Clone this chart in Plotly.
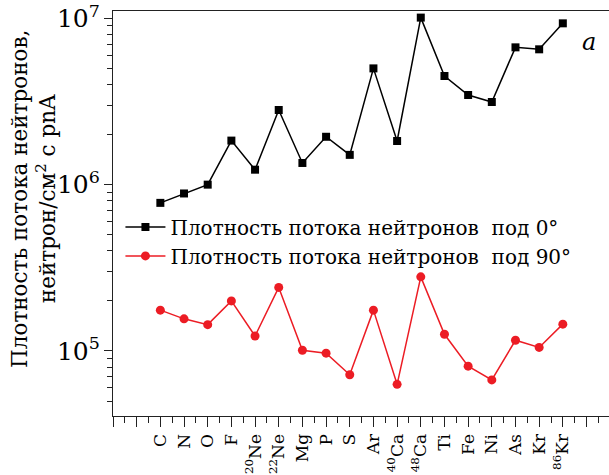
import plotly.graph_objects as go

categories = ["C", "N", "O", "F", "<sup>20</sup>Ne", "<sup>22</sup>Ne", "Mg", "P", "S", "Ar",
              "<sup>40</sup>Ca", "<sup>48</sup>Ca", "Ti", "Fe", "Ni", "As", "Kr", "<sup>86</sup>Kr"]
flux_0 = [7.77e5, 8.85e5, 1.0e6, 1.84e6, 1.23e6, 2.81e6, 1.35e6, 1.94e6, 1.51e6, 5.0e6,
          1.83e6, 1.01e7, 4.5e6, 3.46e6, 3.14e6, 6.69e6, 6.51e6, 9.33e6]
flux_90 = [1.76e5, 1.56e5, 1.44e5, 2.0e5, 1.23e5, 2.41e5, 1.01e5, 9.7e4, 7.2e4, 1.76e5,
           6.3e4, 2.79e5, 1.26e5, 8.1e4, 6.7e4, 1.16e5, 1.05e5, 1.45e5]
name_0 = "Плотность потока нейтронов\u00a0 под 0°"
name_90 = "Плотность потока нейтронов\u00a0 под 90°"
y_title = "Плотность потока нейтронов,<br>нейтрон/см<sup>2</sup> с pnA"

xpos = list(range(1, len(categories) + 1))
FONT = "DejaVu Serif, Liberation Serif, serif"

fig = go.Figure()
fig.add_trace(go.Scatter(x=xpos, y=flux_0, mode="lines+markers", name=name_0,
                         line=dict(color="black", width=1.5),
                         marker=dict(symbol="square", size=8, color="black")))
fig.add_trace(go.Scatter(x=xpos, y=flux_90, mode="lines+markers", name=name_90,
                         line=dict(color="#ec1c24", width=1.5),
                         marker=dict(symbol="circle", size=9, color="#ec1c24")))

major_x = list(range(-1, 20))
ticktext = []
for v in major_x:
    ticktext.append(categories[v - 1] if 1 <= v <= len(categories) else "")

fig.update_layout(
    width=609, height=475,
    margin=dict(l=113, r=0, t=11, b=59),
    paper_bgcolor="white", plot_bgcolor="white",
    font=dict(family=FONT, color="black"),
    showlegend=True,
    legend=dict(x=0.015, y=0.515, xanchor="left", yanchor="top",
                bgcolor="rgba(0,0,0,0)", font=dict(size=20, family=FONT),
                tracegroupgap=0, itemwidth=40),
    xaxis=dict(range=[-1, 19.95], showgrid=False, zeroline=False,
               showline=True, linecolor="#222", linewidth=1.3, mirror=True,
               tickmode="array", tickvals=major_x, ticktext=ticktext,
               tickangle=-90, ticks="outside", ticklen=10, tickwidth=1.3, tickcolor="#222",
               tickfont=dict(size=17, family=FONT),
               minor=dict(tickmode="array", tickvals=[v + 0.5 for v in range(-1, 20)],
                          ticks="outside", ticklen=6, tickwidth=1.3, tickcolor="#222")),
    yaxis=dict(type="log", range=[4.609, 7.044], showgrid=False, zeroline=False,
               showline=True, linecolor="#222", linewidth=1.3, mirror=False,
               dtick=1, exponentformat="power", ticks="outside", ticklen=8,
               tickwidth=1.3, tickcolor="#222", ticklabeloverflow="allow",
               tickfont=dict(size=20, family=FONT),
               minor=dict(ticks="outside", ticklen=5, tickwidth=1.3, tickcolor="#222",
                          dtick="D1", showgrid=False)),
    annotations=[
        dict(text=y_title, xref="paper", yref="paper", x=-0.16, y=0.535,
             xanchor="center", yanchor="middle", textangle=-90, showarrow=False,
             font=dict(size=21.5, family=FONT)),
        dict(text="<i>a</i>", xref="paper", yref="paper", x=(589 - 113) / 496,
             y=(416 - 42) / 405, xanchor="center", yanchor="middle", showarrow=False,
             font=dict(size=24, family=FONT)),
    ],
)

fig.write_html("out.html")
